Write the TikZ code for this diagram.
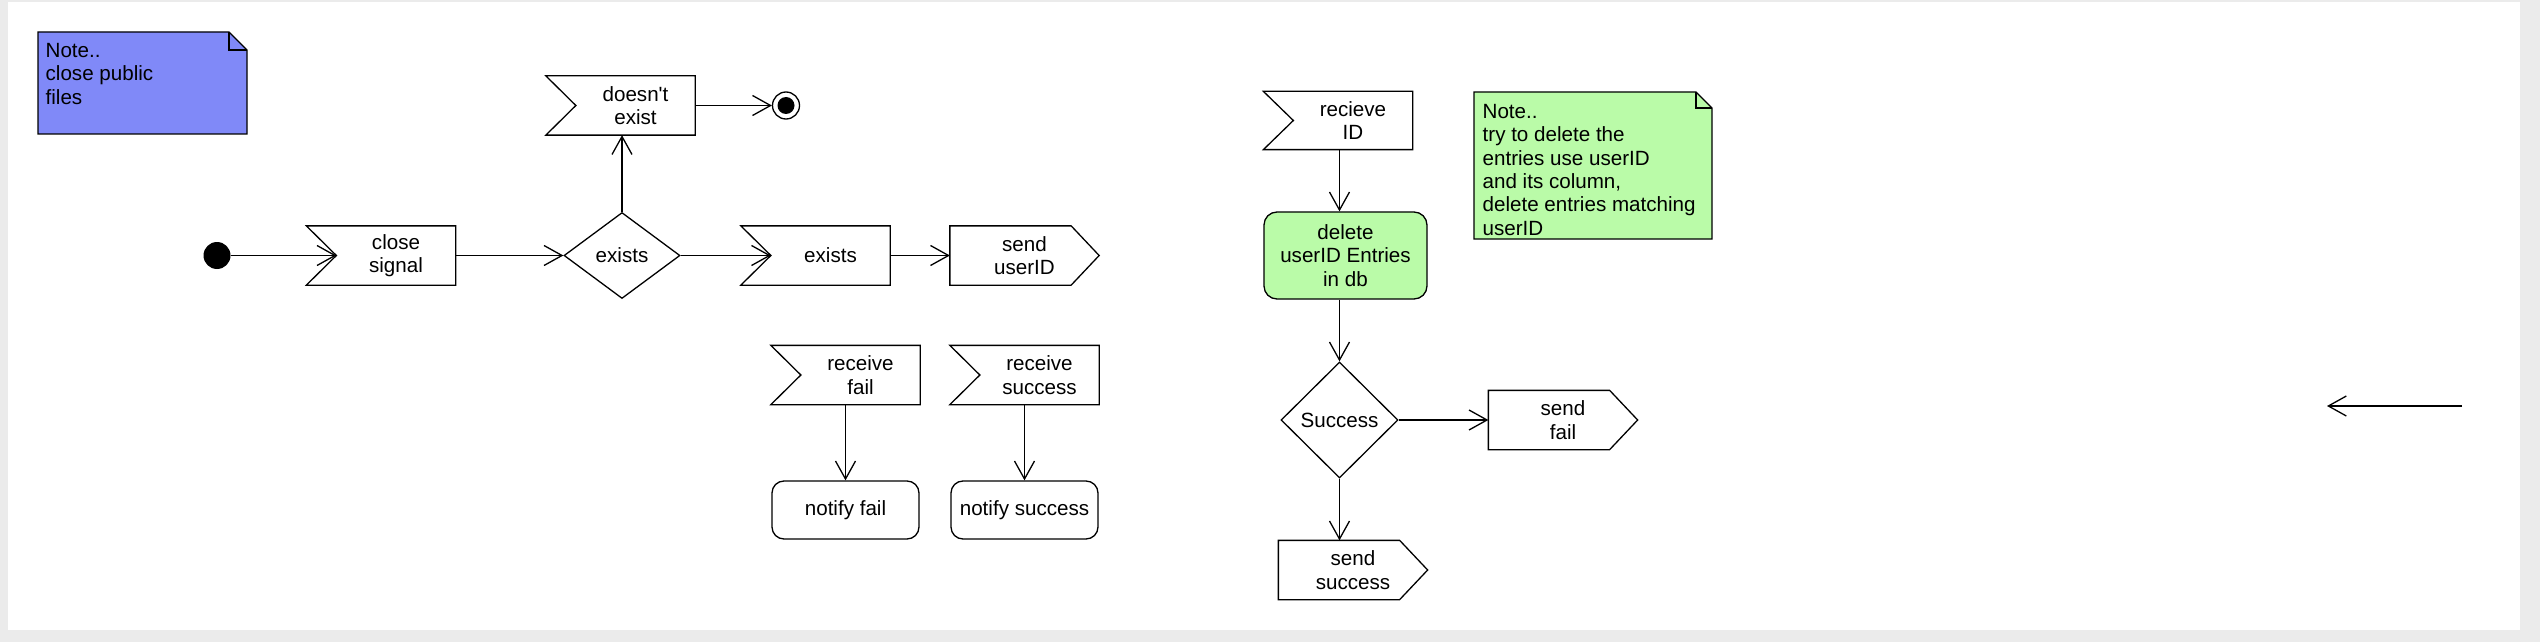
\documentclass[tikz,border=0pt]{standalone}
\usepackage{fontspec}
\setmainfont{Liberation Sans}[Ligatures=TeXOff]
\usepackage{tikz}
\usepackage{xcolor}
\usetikzlibrary{arrows.meta, shapes.geometric}

\definecolor{pagegray}{RGB}{235,235,235}
\definecolor{noteblue}{RGB}{128,137,248}
\definecolor{notegreen}{RGB}{186,251,168}

\tikzset{
    recvsig/.style={minimum width=59pt, minimum height=29pt, inner sep=0pt, align=center},
    sendsig/.style={minimum width=74pt, minimum height=29pt, inner sep=0pt, align=center},
    action/.style={draw, rounded corners=6pt, minimum width=73.5pt, minimum height=29pt, inner sep=0pt, align=center},
    decision/.style={draw, diamond, inner sep=0pt},
    notetext/.style={anchor=north west, inner sep=0pt, align=left}
}

\begin{document}
\begin{tikzpicture}[x=0.5pt, y=-0.5pt, line width=0.65pt, >={Straight Barb[length=9pt,width=10pt]},
    font=\fontsize{10.3}{11.7}\selectfont]
    % Page background
    \useasboundingbox (0,0) rectangle (2540,642);
    \fill[pagegray] (0,0) rectangle (2540,642);
    \fill[white] (8,2) rectangle (2520,630);

    % Draw the notes
    \filldraw[fill=noteblue] (38,32) -- (229,32) -- (247,50) -- (247,134) -- (38,134) -- cycle;
    \draw (229,32) -- (229,50) -- (247,50);
    \node[notetext] (note1) at (45,42.5) {Note..\\close public\\files};
    \filldraw[fill=notegreen] (1474,92) -- (1696,92) -- (1712,108) -- (1712,239) -- (1474,239) -- cycle;
    \draw (1696,92) -- (1696,108) -- (1712,108);
    \node[notetext] (note2) at (1482,103.5)
        {Note..\\try to delete the\\entries use userID\\and its column,\\delete entries matching\\userID};

    % Start and end points
    \node[circle, fill, minimum size=13.5pt, inner sep=0pt] (init) at (217,255.5) {};
    \node[circle, draw, minimum size=13.5pt, inner sep=0pt] (final) at (786,105.5) {};
    \fill (final.center) circle(4.25pt);

    % Left flow
    \node[recvsig] (cls) at (396,255.5) {close\\signal};
    \node[decision, minimum width=58pt, minimum height=43pt] (ex) at (622,255.5) {exists};
    \node[recvsig] (dne) at (635.5,105.5) {doesn't\\exist};
    \node[recvsig] (ex2) at (830.5,255.5) {exists};
    \node[sendsig] (sndid) at (1024.5,255.5) {send\\userID};
    \node[recvsig] (rfail) at (860.5,375) {receive\\fail};
    \node[recvsig] (rsucc) at (1039.5,375) {receive\\success};
    \node[action] (nfail) at (845.5,510) {notify fail};
    \node[action] (nsucc) at (1024.5,510) {notify success};

    % Right flow
    \node[recvsig, minimum height=28.5pt] (rid) at (1353,120.5) {recieve\\ID};
    \node[action, fill=notegreen, rounded corners=6.5pt, minimum width=81.5pt, minimum height=43.5pt]
        (del) at (1345.5,255.5) {delete\\userID Entries\\in db};
    \node[decision, minimum width=58.5pt, minimum height=58pt] (succ) at (1339.5,420) {Success};
    \node[sendsig] (sfail) at (1563,420) {send\\fail};
    \node[sendsig] (ssucc) at (1353,570) {send\\success};

    % Signal outlines
    \foreach \s in {cls,dne,ex2,rfail,rsucc,rid} {
        \draw ([xshift=-15pt]\s.north west) -- (\s.north east) -- (\s.south east)
            -- ([xshift=-15pt]\s.south west) -- (\s.west) -- cycle;
    }
    \foreach \s in {sndid,sfail,ssucc} {
        \draw (\s.north west) -- ([xshift=-14pt]\s.north east) -- (\s.east)
            -- ([xshift=-14pt]\s.south east) -- (\s.south west) -- cycle;
    }

    % Draw the arrows
    \draw[->] (init) -- (cls.west);
    \draw[->] (cls.east) -- (ex.west);
    \draw[->] (ex.north) -- (ex.north |- dne.south);
    \draw[->] (dne.east) -- (final);
    \draw[->] (ex.east) -- (ex2.west);
    \draw[->] (ex2.east) -- (sndid.west);
    \draw[->] (nfail.north |- rfail.south) -- (nfail.north);
    \draw[->] (nsucc.north |- rsucc.south) -- (nsucc.north);
    \draw[->] (succ.north |- rid.south) -- (succ.north |- del.north);
    \draw[->] (succ.north |- del.south) -- (succ.north);
    \draw[->] (succ.east) -- (sfail.west);
    \draw[->] (succ.south) -- (succ.south |- ssucc.north);

    % Loose arrow
    \coordinate (looseA) at (2462,406);
    \coordinate (looseB) at (2327,406);
    \draw[->] (looseA) -- (looseB);
\end{tikzpicture}
\end{document}
